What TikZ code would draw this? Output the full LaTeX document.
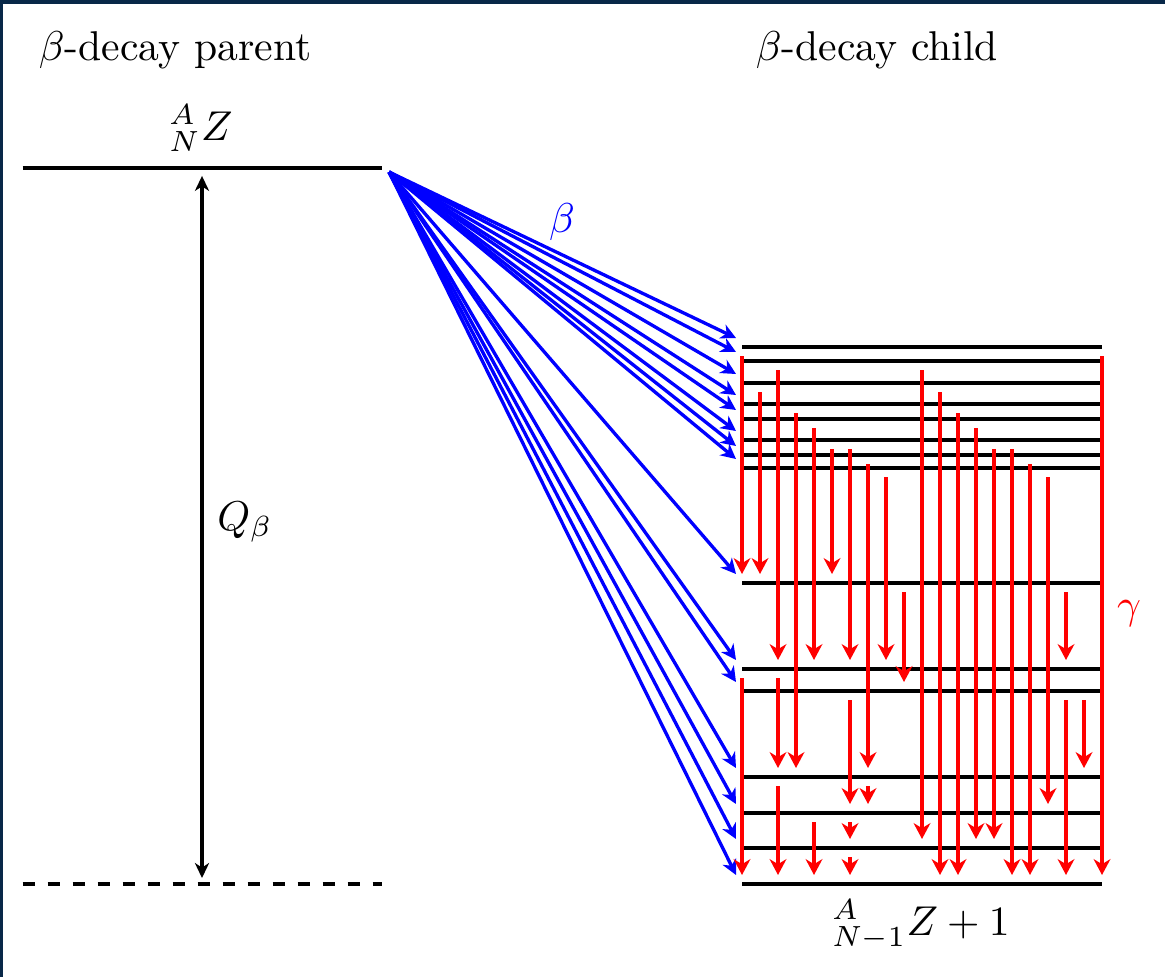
\documentclass[tikz,border=0pt]{standalone}
\usetikzlibrary{arrows.meta}
\definecolor{navyedge}{RGB}{8,40,72}
\begin{document}
\begin{tikzpicture}[x=0.24pt,y=-0.24pt,
  lvl/.style={line width=0.75pt},
  gam/.style={red,line width=0.8pt,-{Stealth[length=3.8pt,width=4pt,inset=1.2pt]},shorten <=2.16pt,shorten >=2.16pt},
  bet/.style={blue,line width=0.8pt,-{Stealth[length=3.6pt,width=3.6pt,inset=1.1pt]}},
  qarr/.style={black,line width=0.75pt,{Stealth[length=3.6pt,width=3.4pt,inset=1.1pt]}-{Stealth[length=3.6pt,width=3.4pt,inset=1.1pt]},shorten <=1.9pt,shorten >=1.44pt},
  txt/.style={inner sep=0pt,anchor=base}]
\useasboundingbox (0,0) rectangle (1165,977);
\fill[navyedge] (0,0) rectangle (1165,4);
\fill[navyedge] (0,0) rectangle (3,977);
% parent
\coordinate (P1) at (22.7,168);
\coordinate (P2) at (381.7,168);
\coordinate (D1) at (22.7,884);
\coordinate (D2) at (381.7,884);
\draw[lvl] (P1) -- (P2);
\draw[lvl,dashed] (D1) -- (D2);
\coordinate (qt) at (202,168);
\coordinate (qb) at (202,884);
\draw[qarr] (qt) -- (qb);
\coordinate (src) at (389,172);
% child levels
\foreach \n/\y in {1/347,2/361,3/383,4/404,5/419,6/440,7/455,8/468,9/583,10/669,11/691,12/777,13/813,14/848,15/884}{
  \coordinate (L\n) at (742,\y);
  \coordinate (R\n) at (1102,\y);
  \coordinate (T\n) at (736,{\y-9});
  \draw[lvl] (L\n) -- (R\n);
}
\foreach \k in {0,...,20}{\coordinate (c\k) at ({742+18*\k},0);}
% beta transitions
\foreach \n in {1,...,15}{\draw[bet] (src) -- (T\n);}
% gamma transitions
\foreach \c/\a/\b in {0/1/9,0/10/15,1/3/9,2/2/10,2/10/12,2/12/15,3/4/12,4/5/10,4/13/15,
  5/6/9,6/6/10,6/11/13,6/13/14,6/14/15,7/7/12,7/12/13,8/8/10,9/9/11,10/2/14,11/3/15,
  12/4/15,13/5/14,14/6/14,15/6/15,16/7/15,17/8/13,18/9/10,18/11/15,19/11/12,20/1/15}{
  \draw[gam] (c\c|-L\a) -- (c\c|-L\b);
}
% labels
\node[txt,anchor=base west] (tparent) at (38,60) {$\beta$-decay parent};
\node[txt] (tchild) at (877,60) {$\beta$-decay child};
\node[txt] (lparent) at (201,140) {${}^{A}_{N}Z$};
\node[txt] (lchild) at (921,935) {${}^{A}_{N-1}Z+1$};
\node[txt] (lq) at (245,530) {$Q_\beta$};
\node[red] (lg) at (1129,614) {$\gamma$};
\node[blue] (lb) at (562,222) {$\beta$};
\end{tikzpicture}
\end{document}
